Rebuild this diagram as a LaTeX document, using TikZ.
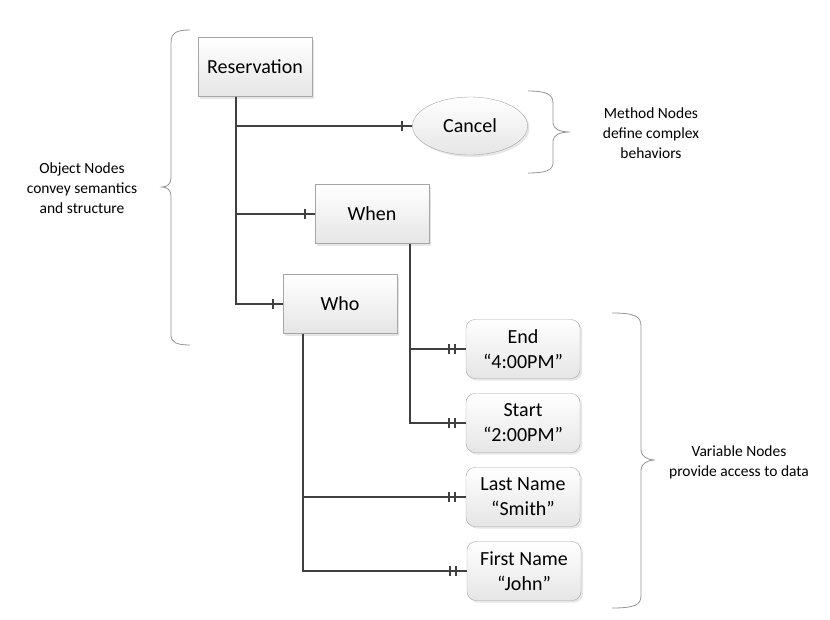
\documentclass[tikz,border=0pt]{standalone}
\usepackage{fontspec}
\setmainfont{Carlito}
\usetikzlibrary{shapes.geometric,shadows,decorations.markings}
\begin{document}
\begin{tikzpicture}[x=1pt,y=-1pt,
    obj/.style={draw=gray!70,top color=white,bottom color=gray!20,minimum width=114pt,minimum height=59pt,
      drop shadow={shadow xshift=2pt,shadow yshift=-2pt,opacity=0.2},font=\fontsize{20}{25}\selectfont},
    var/.style={obj,rounded corners=9pt,align=center},
    meth/.style={obj,ellipse,minimum width=115pt,minimum height=58pt},
    conn/.style={draw=black!75,line width=2pt},
    onebar/.style={postaction={decorate},decoration={markings,
      mark=at position -10pt with {\draw[conn] (0,-5pt) -- (0,5pt);}}},
    twobar/.style={postaction={decorate},decoration={markings,
      mark=at position -11pt with {\draw[conn] (0,-5pt) -- (0,5pt);},
      mark=at position -17pt with {\draw[conn] (0,-5pt) -- (0,5pt);}}},
    brace/.style={draw=gray!85,line width=0.8pt},
    note/.style={align=center,font=\fontsize{15.5}{20}\selectfont}]
    \useasboundingbox (0,0) rectangle (830,619);
    \node[obj] (res) at (255,67) {Reservation};
    \node[meth] (cancel) at (470,126) {Cancel};
    \node[obj] (when) at (372,214) {When};
    \node[obj] (who) at (340,304) {Who};
    \node[var] (end) at (523,349) {End\\“4:00PM”};
    \node[var] (start) at (523,423) {Start\\“2:00PM”};
    \node[var] (last) at (523,497) {Last Name\\“Smith”};
    \node[var] (first) at (524,571) {First Name\\“John”};
    \draw[conn,onebar] ([xshift=-19pt]res.south) |- (cancel.west);
    \draw[conn,onebar] ([xshift=-19pt]res.south) |- (when.west);
    \draw[conn,onebar] ([xshift=-19pt]res.south) |- (who.west);
    \draw[conn,twobar] ([xshift=38pt]when.south) |- (end.west);
    \draw[conn,twobar] ([xshift=38pt]when.south) |- (start.west);
    \draw[conn,twobar] ([xshift=-37pt]who.south) |- (last.west);
    \draw[conn,twobar] ([xshift=-37pt]who.south) |- (first.west);
    \draw[brace] (190,30) .. controls (176,30) and (171,33) .. (171,43) -- (171,178)
      .. controls (171,184) and (167,187) .. (162,187) .. controls (167,187) and (171,190) .. (171,196)
      -- (171,335) .. controls (171,342) and (176,345) .. (190,345);
    \draw[brace] (528,91) .. controls (546,91) and (553,94) .. (553,103) -- (553,123)
      .. controls (553,129) and (560,132) .. (570,132) .. controls (560,132) and (553,135) .. (553,141)
      -- (553,163) .. controls (553,170) and (546,173) .. (528,173);
    \draw[brace] (612,313) .. controls (634,313) and (641,316) .. (641,326) -- (641,450)
      .. controls (641,456) and (647,460) .. (655,460) .. controls (647,460) and (641,464) .. (641,470)
      -- (641,596) .. controls (641,605) and (634,608) .. (612,608);
    \node[note] (objnote) at (82,188) {Object Nodes\\convey semantics\\and structure};
    \node[note] (methnote) at (651,133) {Method Nodes\\define complex\\behaviors};
    \node[note] (varnote) at (739,462) {Variable Nodes\\provide access to data};
  \end{tikzpicture}
\end{document}
